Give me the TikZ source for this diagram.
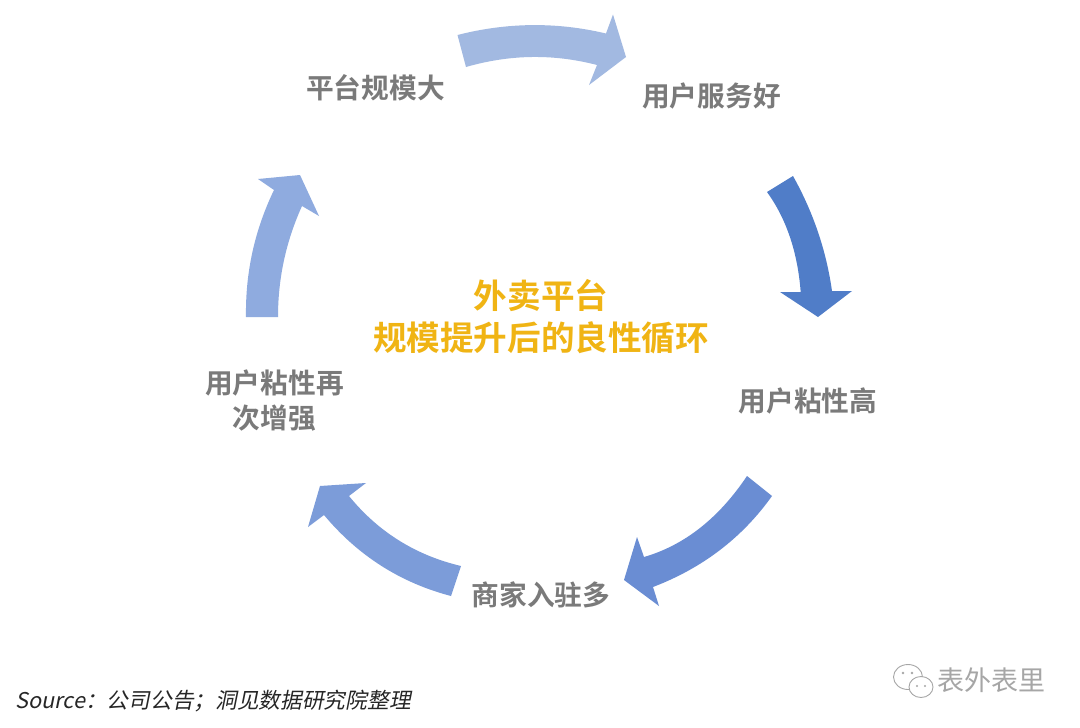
\documentclass[tikz,border=0pt]{standalone}
\usepackage{fontspec}
\setmainfont{Noto Sans CJK SC}
\newfontfamily\cjkbold[BoldFont={Noto Sans CJK SC Bold}]{Noto Sans CJK SC}
\newfontfamily\cjkslant[FakeSlant=0.2]{Noto Sans CJK SC}
\definecolor{aone}{HTML}{A2B9E1}
\definecolor{atwo}{HTML}{507DC8}
\definecolor{athree}{HTML}{6A8DD3}
\definecolor{afour}{HTML}{7C9CD9}
\definecolor{afive}{HTML}{8FABDF}
\definecolor{labelgray}{HTML}{7A7A7A}
\definecolor{titlegold}{HTML}{F0B414}
\definecolor{markgray}{HTML}{A6A6A6}
\tikzset{
  steplabel/.style={font=\cjkbold\bfseries\fontsize{27.7}{35}\selectfont,text=labelgray,align=center,inner sep=0pt},
  titlelabel/.style={font=\cjkbold\bfseries\fontsize{33.6}{42}\selectfont,text=titlegold,align=center,inner sep=0pt},
  sourcelabel/.style={font=\cjkslant\fontsize{21.7}{25}\selectfont,text=black!85,anchor=west,inner sep=0pt},
  marklabel/.style={font=\cjkbold\fontsize{27}{30}\selectfont,text=markgray,anchor=west,inner sep=0pt},
  bubble/.style={draw=markgray,fill=white,line width=0.9pt}
}
\begin{document}
\begin{tikzpicture}[x=1pt,y=-1pt]
\useasboundingbox (0,0) rectangle (1080,728);
\fill[white] (0,0) rectangle (1080,728);
% arrows
\fill[aone] (457.5,35) .. controls (507.2,22.3) and (556.7,21.8) .. (606,33.5) -- (613,14.5) -- (626,57) -- (589,85) -- (597,65) .. controls (553.7,53.7) and (510,54.3) .. (466,67) -- cycle;
\fill[atwo] (793,176) .. controls (813.3,212.3) and (826.3,250.7) .. (832,291) -- (852,291) -- (818,317) -- (780,292) -- (800.7,292) .. controls (797.6,252) and (786.3,218.7) .. (767,192) -- cycle;
\fill[athree] (747,476) .. controls (718.7,518.3) and (684.3,545.3) .. (644,557) -- (637,537) -- (624,580) -- (659,606) -- (653,587) .. controls (702.7,568) and (742.3,537.7) .. (772,496) -- cycle;
\fill[afour] (461,566) .. controls (415.7,555.3) and (378.3,532) .. (349,496) -- (366,483) -- (320,486) -- (308,527) -- (324,515) .. controls (358,555.7) and (400.3,582.7) .. (451,596) -- cycle;
\fill[afive] (246,317) .. controls (245.3,272.3) and (254.7,230) .. (274,190) -- (258,179) -- (300,175) -- (319,216) -- (302,206) .. controls (286,241.3) and (278,278.3) .. (278,317) -- cycle;
% labels
\node[steplabel] (scale) at (375.5,88) {平台规模大};
\node[steplabel] (service) at (711.5,96) {用户服务好};
\node[steplabel] (sticky) at (808,401) {用户粘性高};
\node[steplabel] (merchant) at (541,595) {商家入驻多};
\node[steplabel] (again) at (274.5,401) {用户粘性再\\次增强};
\node[titlelabel] (title) at (541,317) {外卖平台\\规模提升后的良性循环};
\node[sourcelabel] (source) at (15,701) {Source：公司公告；洞见数据研究院整理};
% watermark
\draw[bubble] (908,677) circle[x radius=14.5,y radius=12.5];
\draw[bubble] (921,687) circle[x radius=12,y radius=10.5];
\fill[markgray] (903,673) circle[radius=1.3] (912,673) circle[radius=1.3] (917,686) circle[radius=1.1] (925,686) circle[radius=1.1];
\node[marklabel] (mark) at (937,680) {表外表里};
\end{tikzpicture}
\end{document}
